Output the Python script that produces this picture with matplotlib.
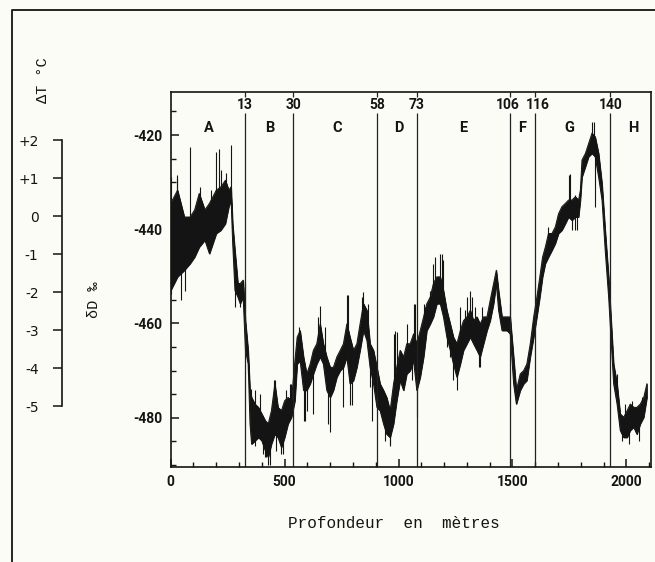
import numpy as np
import matplotlib
matplotlib.use("Agg")
import matplotlib.pyplot as plt
from matplotlib.lines import Line2D
from matplotlib.ticker import MultipleLocator, FixedLocator

plt.rcParams["axes.unicode_minus"] = False

# deuterium record (depth in m, lower/upper edge of the dark band in permil)
depth = [0, 30, 60, 85, 105, 125, 150, 170, 200, 220, 240, 255, 265, 272, 282, 295, 305, 318, 328, 340,
         348, 355, 370, 385, 400, 415, 428, 442, 457, 471, 486, 500, 515, 530, 545,
         555, 568, 583, 597, 612, 626, 641, 656, 670, 685, 700, 714, 729, 744, 758, 773, 787, 802, 817,
         831, 846, 861, 875, 890, 905, 919, 934, 948, 963, 978, 992, 1007, 1022, 1036, 1051,
         1066, 1080, 1095, 1110, 1124, 1139, 1153, 1168, 1183, 1197, 1212, 1227, 1241, 1256, 1271, 1285,
         1300, 1315, 1329, 1344, 1358, 1373, 1388, 1402, 1417, 1429, 1439, 1454, 1476, 1490, 1505, 1517,
         1534, 1549, 1563, 1578, 1593,
         1607, 1620, 1632, 1644, 1658, 1673, 1688, 1702, 1717, 1732, 1746, 1761, 1776, 1790, 1798, 1805,
         1820, 1834, 1849, 1863, 1878, 1893, 1907, 1922, 1934, 1944, 1959, 1973, 1988, 2003, 2017, 2032,
         2046, 2061, 2076, 2090]

dD_hi = [-434.5, -431.7, -437.4, -437.4, -435.9, -432.4, -435.9, -434.5, -431.7, -431.0,
         -429.6, -431.7, -431.0, -438.8, -444.5, -451.5, -451.5, -450.8, -459.4, -465.7,
         -474.2, -475.7, -477.1, -477.8, -479.2, -480.6, -481.3, -478.5, -472.8, -477.8,
         -478.5, -476.4, -475.7, -476.4, -467.9,
         -462.9, -461.5, -467.1, -470.7, -468.6, -465.7, -464.3, -460.1, -464.3, -467.1,
         -469.3, -469.3, -467.1, -465.7, -464.3, -460.1, -462.9, -465.7, -464.3, -460.1,
         -455.8, -457.2, -464.3, -465.7, -469.3, -472.8, -474.2, -475.7, -478.5, -472.8,
         -469.3, -465.7, -467.1, -464.3, -464.3,
         -462.2, -464.3, -461.5, -458.6, -455.8, -454.4, -451.5, -450.1, -450.1, -453.0,
         -457.2, -460.1, -462.9, -464.3, -461.5, -459.4, -458.6, -457.2, -459.4, -458.6,
         -460.1, -458.6, -458.6, -455.1, -451.5, -448.7, -453.0, -458.6, -458.6, -458.6,
         -467.1, -474.2, -470.7, -470.0, -468.6, -464.3, -458.6,
         -454.4, -450.1, -445.9, -443.8, -440.9, -440.9, -439.5, -436.7, -435.2, -434.5,
         -433.8, -433.8, -433.1, -433.8, -431.7, -425.3, -423.9, -421.8, -419.6, -420.4,
         -423.9, -430.3, -440.2, -450.1, -460.1, -468.6, -472.8, -479.2, -479.9, -478.5,
         -477.1, -477.8, -477.8, -477.1, -475.7, -472.8]

dD_lo = [-453.0, -450.1, -448.7, -447.3, -445.9, -443.8, -442.3, -445.2, -440.9, -440.2,
         -438.8, -435.2, -433.8, -443.0, -453.0, -454.4, -455.8, -454.4, -465.7, -468.6,
         -481.3, -485.6, -484.9, -484.2, -484.9, -487.0, -488.4, -485.6, -483.5, -484.2,
         -486.3, -484.2, -481.3, -479.9, -476.4,
         -468.6, -467.9, -474.2, -474.2, -472.8, -470.7, -468.6, -467.1, -468.6, -474.2,
         -475.7, -474.2, -471.4, -470.0, -469.3, -467.1, -472.8, -472.1, -469.3, -465.7,
         -461.5, -463.6, -469.3, -472.8, -477.8, -478.5, -481.3, -483.5, -484.2, -481.3,
         -476.4, -472.1, -474.2, -470.7, -470.0,
         -467.9, -474.2, -471.4, -467.1, -461.5, -460.1, -458.6, -455.8, -455.8, -458.6,
         -462.9, -465.7, -468.6, -471.4, -468.6, -465.7, -464.3, -462.9, -464.3, -465.7,
         -467.1, -464.3, -461.5, -459.4, -455.8, -451.5, -457.2, -461.5, -461.5, -462.2,
         -472.8, -477.1, -474.2, -472.8, -472.1, -467.1, -462.9,
         -458.6, -454.4, -450.1, -447.3, -445.9, -444.5, -443.0, -440.9, -440.2, -438.8,
         -437.4, -438.1, -437.4, -437.4, -433.8, -428.9, -426.7, -424.6, -423.9, -424.6,
         -428.9, -433.8, -444.5, -454.4, -464.3, -472.8, -477.1, -482.7, -484.2, -484.2,
         -482.7, -482.0, -483.5, -481.3, -479.9, -475.7]

# isolated spikes sticking out of the band
spike_depth = [3, 3, 27, 29, 45, 61, 83, 127, 178, 200, 210, 222, 244, 263, 281, 303, 325, 325, 340,
               354, 369, 372, 391, 405, 413, 420, 427, 435, 454, 457, 464, 486, 493, 508, 522, 530,
               561, 583, 590, 597, 626, 648, 656, 678, 692, 700, 758, 773, 780, 787, 795, 839, 846,
               868, 875, 883, 941, 963, 963, 978, 985, 992, 1036,
               1058, 1066, 1073, 1083, 1110, 1117, 1139, 1153, 1161, 1183, 1190, 1197, 1212, 1227,
               1241, 1256, 1271, 1293, 1300, 1315, 1322, 1336, 1351, 1358, 1366, 1490,
               1658, 1746, 1754, 1761, 1776, 1776, 1783, 1849, 1856, 1863,
               1959, 1981, 1995, 2010, 2024, 2054, 2068]
spike_val = [-428.9, -453.7, -428.5, -429.2, -455.0, -453.0, -422.5, -431.0, -431.7, -423.5, -423.0,
             -427.4, -428.1, -422.1, -456.5, -456.5, -451.5, -459.4, -470.7,
             -474.0, -474.2, -486.0, -475.0, -487.7, -488.4, -488.4, -490.0, -490.0, -472.0, -472.1,
             -487.0, -487.7, -487.7, -474.2, -472.8, -472.8,
             -460.8, -480.6, -480.6, -478.5, -479.2, -458.6, -456.2, -460.8, -481.3, -483.1, -477.8,
             -454.0, -454.0, -477.4, -477.4, -454.4, -453.3, -455.8, -473.5, -480.6, -484.9, -485.6,
             -485.9, -462.2, -461.5, -461.8, -460.1,
             -472.1, -455.8, -455.8, -479.9, -455.8, -456.5, -453.0, -447.3, -445.9, -445.2, -445.2,
             -446.6, -465.0, -467.1, -472.1, -474.2, -456.5, -457.2, -454.4, -453.0, -454.4, -456.5,
             -469.3, -469.3, -456.5, -455.8,
             -439.5, -428.5, -428.2, -440.2, -432.8, -440.2, -440.2, -417.2, -417.2, -435.2,
             -470.7, -484.9, -477.1, -485.6, -476.4, -484.9, -475.7]

# stage boundaries (depth) with ages in kyr, and zone letters
bound_depth = [325, 538, 907, 1080, 1488, 1600, 1930]
bound_age = ["13", "30", "58", "73", "106", "116", "140"]
zone_depth = [168, 436, 730, 1003, 1283, 1543, 1749, 2031]
zone_name = ["A", "B", "C", "D", "E", "F", "G", "H"]

dD_ticks = [-480, -460, -440, -420]
x_ticks = [0, 500, 1000, 1500, 2000]
dT_ticks = [2, 1, 0, -1, -2, -3, -4, -5]
dT_labels = ["+2", "+1", "0", "-1", "-2", "-3", "-4", "-5"]

bg = "#fcfcf6"
ink = "#141414"
W, H = 655, 562
y0, y1 = -490.4, -410.8
narrow = ["Roboto", "DejaVu Sans"]
mono = ["Liberation Mono", "DejaVu Sans Mono"]

fig = plt.figure(figsize=(W / 100, H / 100), dpi=100, facecolor=bg)

ax = fig.add_axes([170.7 / W, 1 - 466.7 / H, (651 - 170.7) / W, (466.7 - 91.7) / H])
ax.set_facecolor(bg)
ax.set_xlim(0, 2108)
ax.set_ylim(y0, y1)

hi = np.array(dD_hi)
lo = np.array(dD_lo)
ax.fill_between(depth, lo, hi, color=ink, lw=0.6)
ax.plot(depth, hi, color=ink, lw=0.7)
ax.plot(depth, lo, color=ink, lw=0.7)
base = np.interp(spike_depth, depth, (hi + lo) / 2)
ax.vlines(spike_depth, base, spike_val, color=ink, lw=0.8)

# boundaries: line interrupted by the age label
ax.vlines(bound_depth, y0, -415.3, color="#222222", lw=0.9)
ax.vlines(bound_depth, -412.0, y1, color="#222222", lw=0.9)
nudge = {"106": -1.5, "116": 1.5}
for d, a in zip(bound_depth, bound_age):
    ax.annotate(a, (d, -413.6), xytext=(nudge.get(a, 0), 0), textcoords="offset points",
                ha="center", va="center", fontsize=10, fontweight="bold",
                family=narrow, color=ink)
for d, z in zip(zone_depth, zone_name):
    ax.text(d, -418.5, z, ha="center", va="center", fontsize=10.5, fontweight="bold",
            family=narrow, color=ink)

for s in ax.spines.values():
    s.set_linewidth(1.2)
    s.set_color(ink)

ax.yaxis.set_major_locator(FixedLocator(dD_ticks))
ax.yaxis.set_minor_locator(MultipleLocator(5))
ax.xaxis.set_major_locator(FixedLocator(x_ticks))
ax.xaxis.set_minor_locator(MultipleLocator(100))
ax.tick_params(which="major", direction="in", length=5.5, width=1.1, color=ink, labelsize=10, pad=6)
ax.tick_params(which="minor", direction="in", length=3.5, width=1.0, color=ink)
for lab in ax.get_xticklabels() + ax.get_yticklabels():
    lab.set_fontweight("bold")
    lab.set_family(narrow)
    lab.set_color(ink)

# temperature scale on the left
ax2 = fig.add_axes([61.5 / W, 1 - 406 / H, 0.01, (406 - 140) / H])
ax2.patch.set_visible(False)
ax2.set_ylim(-5, 2)
for k in ["top", "right", "bottom"]:
    ax2.spines[k].set_visible(False)
ax2.spines["left"].set_linewidth(1.2)
ax2.spines["left"].set_color(ink)
ax2.set_xticks([])
ax2.set_yticks(dT_ticks)
ax2.set_yticklabels(dT_labels)
ax2.tick_params(axis="y", direction="out", length=6.5, width=1.1, color=ink, labelsize=10,
                labelcolor=ink, pad=10)

fig.text(43 / W, 1 - 80 / H, "\u0394T \u00b0C", rotation=90, ha="center", va="center",
         family=mono, fontsize=11, color=ink)
fig.text(94 / W, 1 - 300 / H, "\u03b4D \u2030", rotation=90, ha="center", va="center",
         family=mono, fontsize=11, color=ink)
fig.text(394 / W, 1 - 523 / H, "Profondeur  en  m\u00e8tres", ha="center", va="center",
         family=mono, fontsize=11.5, color=ink)

# outer frame of the scanned page
fig.add_artist(Line2D([12 / W, 12 / W, 1], [0, 1 - 10 / H, 1 - 10 / H],
                      transform=fig.transFigure, color=ink, lw=1.3))

fig.savefig("out.png", dpi=100, facecolor=bg)
